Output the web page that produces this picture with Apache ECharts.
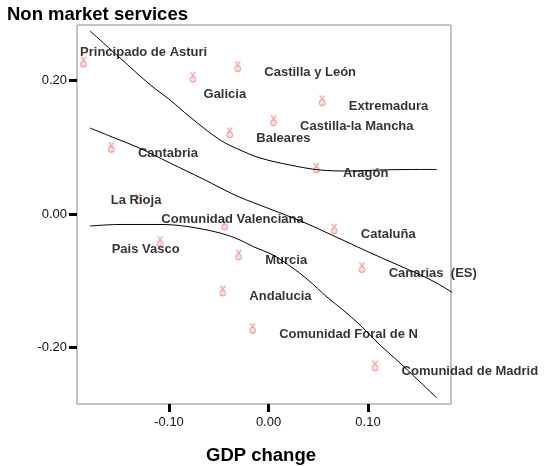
<!DOCTYPE html>
<html><head><meta charset="utf-8">
<script src="https://cdn.jsdelivr.net/npm/echarts@6/dist/echarts.min.js"></script>
<style>html,body{margin:0;padding:0;background:#fff}#c{width:544px;height:466px}</style>
</head><body><div id="c"></div>
<script>
// ---- data ----
const regions = ["Principado de Asturi","Galicia","Castilla y León","Extremadura","Castilla-la Mancha","Baleares","Aragón","Cantabria","La Rioja","Comunidad Valenciana","Pais Vasco","Cataluña","Murcia","Canarias  (ES)","Andalucia","Comunidad Foral de N","Comunidad de Madrid"];
const gdpChange = [-0.186,-0.076,-0.031,0.054,0.005,-0.039,0.048,-0.158,-0.131,-0.044,-0.109,0.066,-0.030,0.094,-0.046,-0.016,0.107];
const nonMarket = [0.228,0.205,0.221,0.170,0.140,0.122,0.069,0.100,0.023,-0.016,-0.041,-0.022,-0.061,-0.080,-0.115,-0.171,-0.227];

const fitX = [-0.1794,-0.1523,-0.1322,-0.0990,-0.0658,-0.0317,0.0015,0.0347,0.0658,0.1050,0.1392,0.1593,0.1824,0.2025];
const fitY = [0.1288,0.1124,0.1004,0.0764,0.0524,0.0270,0.0075,-0.0120,-0.0330,-0.0599,-0.0824,-0.0959,-0.1154,-0.1378];
const upperX = [-0.1794,-0.1492,-0.1191,-0.0990,-0.0789,-0.0487,-0.0286,-0.0085,0.0216,0.0518,0.0819,0.1121,0.1422,0.1693];
const upperY = [0.2742,0.2337,0.1938,0.1708,0.1453,0.1109,0.0959,0.0839,0.0734,0.0659,0.0644,0.0659,0.0667,0.0667];
const lowerX = [-0.1794,-0.1492,-0.1090,-0.0819,-0.0487,-0.0286,-0.0156,0.0045,0.0216,0.0387,0.0598,0.0749,0.0920,0.1121,0.1322,0.1523,0.1693];
const lowerY = [-0.0180,-0.0157,-0.0157,-0.0187,-0.0285,-0.0390,-0.0487,-0.0614,-0.0779,-0.0974,-0.1258,-0.1438,-0.1663,-0.1963,-0.2232,-0.2517,-0.2757];

const xTicks = [-0.1, 0, 0.1];
const yTicks = [-0.2, 0, 0.2];
const titleText = "Non market services";
const xName = "GDP change";

// ---- styling ----
const FONT = "'Liberation Sans', Arial, sans-serif";
const SYM = [6, 10];
const defaultOffset = [27, 6.5];
const labelOffsets = {
  "Principado de Asturi": [-3, -9],
  "Galicia": [11, 18],
  "La Rioja": [-27, 2],
  "Comunidad Valenciana": [-63, -5],
  "Pais Vasco": [-48, 9]
};

const pts = regions.map((n, i) => {
  const o = labelOffsets[n] || defaultOffset;
  return {
    name: n,
    value: [gdpChange[i], nonMarket[i]],
    label: { position: [o[0] + SYM[0] / 2, o[1] + SYM[1] / 2] }
  };
});
const zip = (xs, ys) => xs.map((x, i) => [x, ys[i]]);

const lineStyle = { color: '#000', width: 1 };
const chart = echarts.init(document.getElementById('c'), null, { renderer: 'canvas' });
chart.setOption({
  animation: false,
  backgroundColor: '#fff',
  grid: { left: 77, right: 93, top: 25, bottom: 62, show: true, borderColor: '#8a8a8a', borderWidth: 1, backgroundColor: 'transparent' },
  xAxis: {
    type: 'value', min: -0.1925, max: 0.1834, position: 'bottom',
    axisLine: { show: false, onZero: false },
    splitLine: { show: false },
    axisTick: { show: true, customValues: xTicks, length: 8, lineStyle: { color: '#000', width: 3 } },
    axisLabel: { customValues: xTicks, formatter: v => v.toFixed(2), margin: 12, fontFamily: FONT, fontSize: 13, color: '#111' }
  },
  yAxis: {
    type: 'value', min: -0.2846, max: 0.2831, position: 'left',
    axisLine: { show: false, onZero: false },
    splitLine: { show: false },
    axisTick: { show: true, customValues: yTicks, length: 8, lineStyle: { color: '#000', width: 3 } },
    axisLabel: { customValues: yTicks, formatter: v => v.toFixed(2), margin: 10, fontFamily: FONT, fontSize: 13, color: '#111' }
  },
  graphic: [
    { type: 'text', left: 7, top: 5, style: { text: titleText, font: "bold 18.5px 'Liberation Sans', Arial, sans-serif", fill: '#000' } },
    { type: 'text', style: { x: 261, y: 456, text: xName, font: "bold 18.5px 'Liberation Sans', Arial, sans-serif", fill: '#000', align: 'center', verticalAlign: 'middle' } }
  ],
  series: [
    { type: 'line', data: zip(upperX, upperY), showSymbol: false, symbol: 'none', smooth: 0.35, clip: false, lineStyle: lineStyle, z: 3 },
    { type: 'line', data: zip(fitX, fitY), showSymbol: false, symbol: 'none', smooth: 0.35, clip: false, lineStyle: lineStyle, z: 3 },
    { type: 'line', data: zip(lowerX, lowerY), showSymbol: false, symbol: 'none', smooth: 0.35, clip: false, lineStyle: lineStyle, z: 3 },
    {
      type: 'scatter', data: pts, z: 2,
      symbol: 'path://M1,0 L3,4 L5,0 M3,4 C0,5 0,10 3,10 C6,10 6,5 3,4 Z',
      symbolSize: SYM,
      itemStyle: { color: '#fad4d4', borderColor: '#f08c8c', borderWidth: 1 },
      label: { show: true, formatter: p => p.name, align: 'left', verticalAlign: 'middle', fontFamily: FONT, fontWeight: 'bold', fontSize: 13, color: '#000' }
    }
  ]
});
</script>
</body></html>
